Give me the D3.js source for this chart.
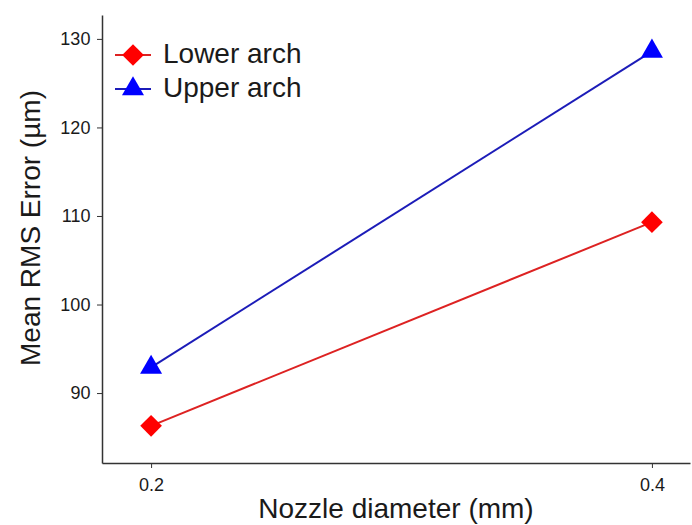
<!DOCTYPE html>
<html>
<head>
<meta charset="utf-8">
<title>Mean RMS Error</title>
<script src="https://cdn.jsdelivr.net/npm/d3@7"></script>
<style>
body{margin:0;background:#fff;}
text{font-family:"Liberation Sans",Arial,sans-serif;fill:#1a1a1a;}
</style>
</head>
<body>
<div id="chart"></div>
<script>
var w=692,h=525;
var nozzle=[0.2,0.4];
var lowerArch=[86.3,109.3];
var upperArch=[92.9,128.6];
var yTicks=[90,100,110,120,130];

var x=d3.scaleLinear().domain([0.1804,0.4152]).range([102,690]);
var y=d3.scaleLinear().domain([82.1,132.7]).range([463,15]);

var svg=d3.select('#chart').append('svg')
  .attr('width',w).attr('height',h);

var xAxis=svg.append('g').attr('transform','translate(0,463)')
  .call(d3.axisBottom(x).tickValues(nozzle).tickFormat(d3.format('.1f')).tickSize(5).tickSizeOuter(0));
var yAxis=svg.append('g').attr('transform','translate(102,0)')
  .call(d3.axisLeft(y).tickValues(yTicks).tickSize(5).tickSizeOuter(0));
[xAxis,yAxis].forEach(function(a){
  a.select('.domain').attr('stroke','#333').attr('stroke-width',1.5);
  a.selectAll('.tick line').attr('stroke','#333');
  a.selectAll('.tick text').attr('font-size','18px').attr('fill','#222')
   .style('font-family','"Liberation Sans",Arial,sans-serif');
});
xAxis.selectAll('.tick text').attr('dy','1.1em');
yAxis.selectAll('.tick text').attr('dx','-0.2em');

var line=d3.line().x(function(d,i){return x(nozzle[i]);}).y(function(d){return y(d);});

// diamond drawn as a rotated square
var series=[
  {name:'Lower arch',vals:lowerArch,lc:'#dd2222',mc:'#ff0000',sym:d3.symbolSquare,size:235,rot:45},
  {name:'Upper arch',vals:upperArch,lc:'#1c1cb8',mc:'#0000ff',sym:d3.symbolTriangle,size:210,rot:0}
];

series.forEach(function(s){
  svg.append('path').datum(s.vals).attr('d',line)
    .attr('fill','none').attr('stroke',s.lc).attr('stroke-width',2);
  svg.selectAll(null).data(s.vals).enter().append('path')
    .attr('d',d3.symbol().type(s.sym).size(s.size))
    .attr('transform',function(d,i){
      return 'translate('+x(nozzle[i])+','+y(d)+') rotate('+s.rot+')';
    })
    .attr('fill',s.mc);
});

// legend
var leg=svg.append('g');
series.forEach(function(s,i){
  var ly=55+i*34;
  leg.append('line').attr('x1',115).attr('x2',151).attr('y1',ly).attr('y2',ly)
    .attr('stroke',s.lc).attr('stroke-width',2);
  leg.append('path').attr('d',d3.symbol().type(s.sym).size(s.size))
    .attr('transform','translate(133,'+ly+') rotate('+s.rot+')')
    .attr('fill',s.mc);
  leg.append('text').attr('x',163).attr('y',ly+8)
    .attr('font-size','28px').text(s.name);
});

svg.append('text').attr('x',396).attr('y',518).attr('text-anchor','middle')
  .attr('font-size','28px').text('Nozzle diameter (mm)');
svg.append('text').attr('transform','translate(40,228) rotate(-90)')
  .attr('text-anchor','middle').attr('font-size','28px').text('Mean RMS Error (µm)');
</script>
</body>
</html>
